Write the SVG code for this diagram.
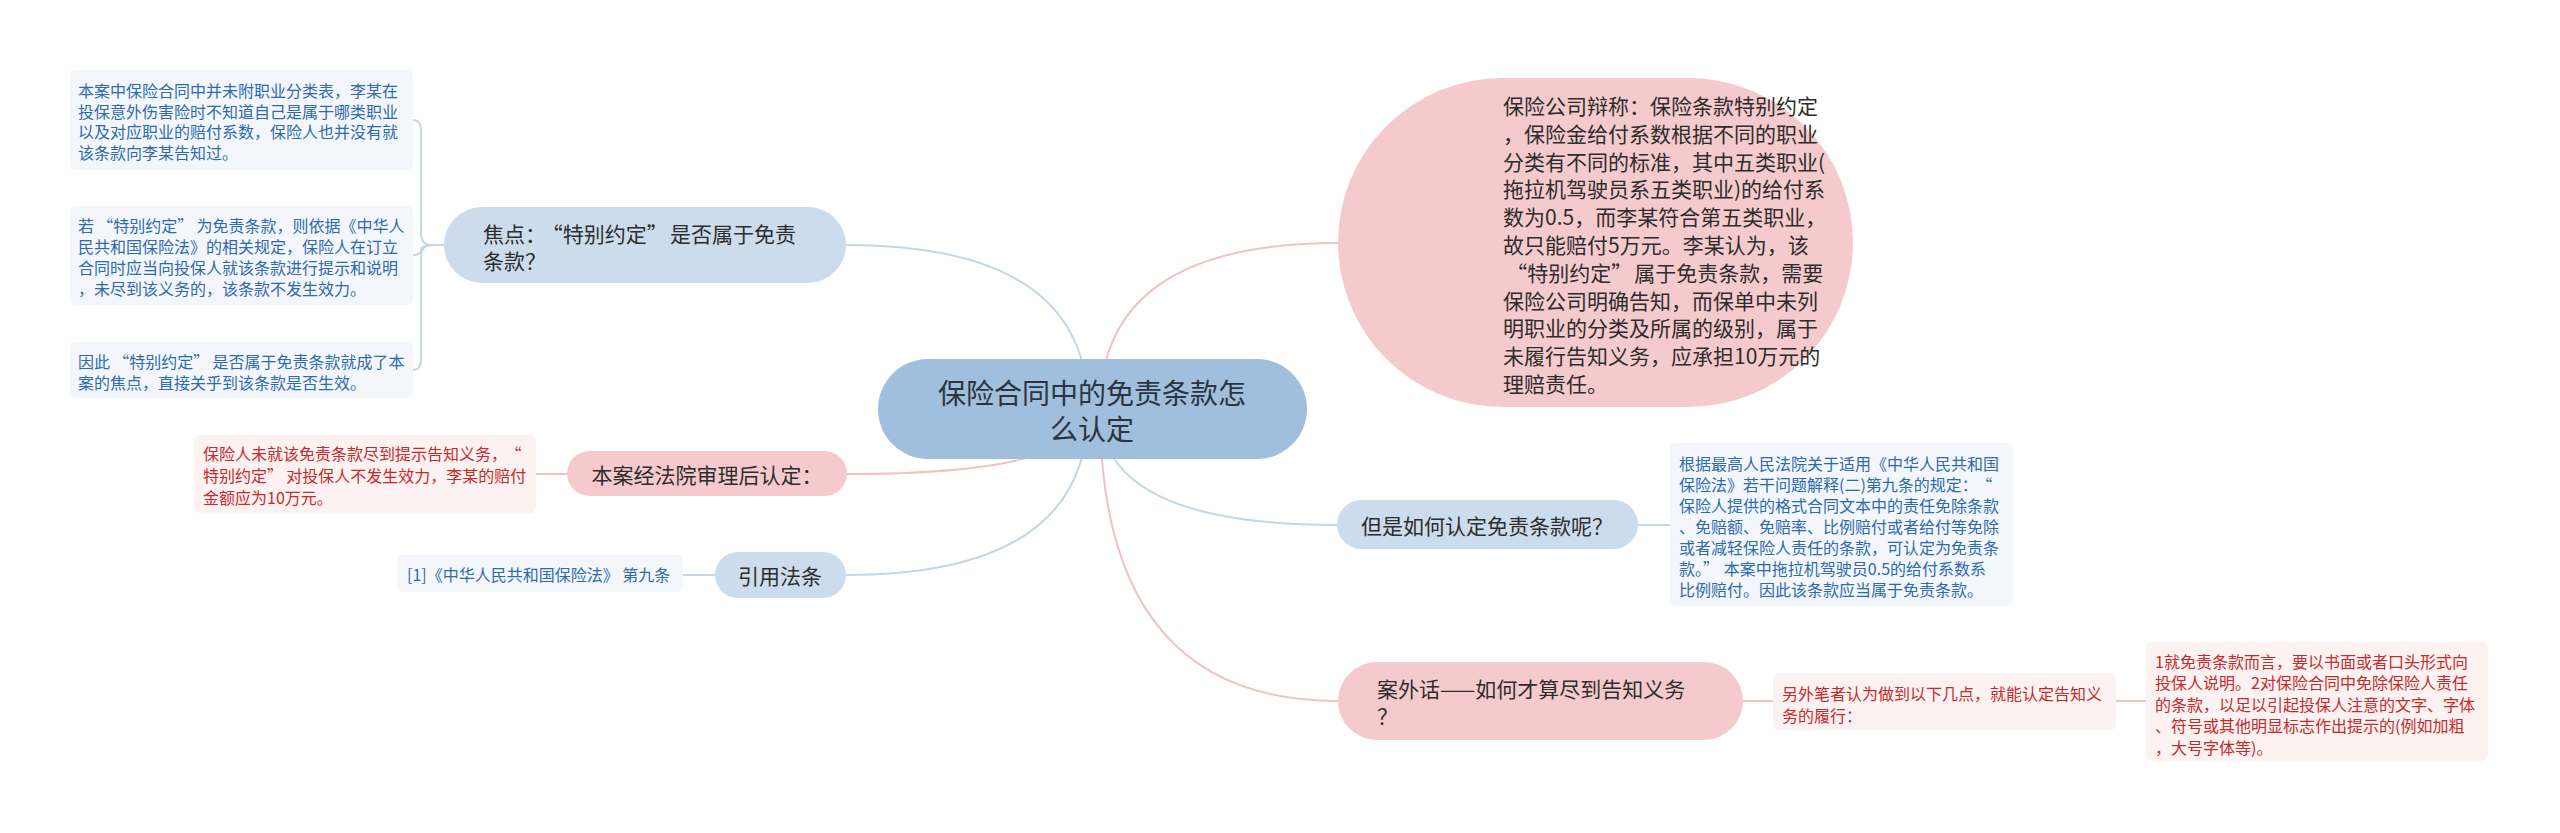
<svg xmlns="http://www.w3.org/2000/svg" width="2560" height="833" viewBox="0 0 2560 833">
<style>
text{font-family:"Noto Sans CJK SC","Liberation Sans",sans-serif;dominant-baseline:central}
.root{fill:#a0bfdc}
.bb{fill:#ccdcec}
.pb{fill:#f5cacc}
.bl{fill:#f3f7fc}
.rl{fill:#fdf2f2}
.cb{fill:none;stroke:#c5d6e9;stroke-width:2}
.cp{fill:none;stroke:#f1c2c4;stroke-width:2}
.tr{font-size:28px;fill:#2b3440;text-anchor:middle}
.tm{font-size:21px;fill:#2d2d2d}
.tmc{font-size:21px;fill:#2d2d2d;text-anchor:middle}
.tb{font-size:16px;fill:#2e6aad}
.tred{font-size:16px;fill:#c8292b}
</style>
<rect width="2560" height="833" fill="#ffffff"/>
<g id="connectors">
<path class="cb" d="M1088 409 Q1088 245 846 245"/>
<path class="cb" d="M1088 409 Q1088 575 846 575"/>
<path class="cb" d="M1100 409 Q1100 525 1337 525"/>
<path class="cp" d="M1100 409 Q1100 243 1338 243"/>
<path class="cp" d="M1088 409 Q1088 474 847 474"/>
<path class="cp" d="M1100 409 Q1100 701 1338 701"/>
<path class="cb" d="M444 245 H432 Q421 245 421 234 V131 Q421 120 413 120"/>
<path class="cb" d="M432 245 Q421 245 421 250 Q421 255 413 255"/>
<path class="cb" d="M432 245 Q421 245 421 256 V359 Q421 370 413 370"/>
<path class="cb" d="M715 575 H683"/>
<path class="cb" d="M1638 525 H1670"/>
<path class="cp" d="M567 474 H536"/>
<path class="cp" d="M1743 701 H1773"/>
<path class="cp" d="M2116 701 H2146"/>
</g>
<g id="root">
<rect class="root" x="878" y="359" width="429" height="100" rx="50"/>
<text class="tr" x="1092" y="392">保险合同中的免责条款怎</text>
<text class="tr" x="1092" y="428">么认定</text>
</g>
<g id="focus">
<rect class="bb" x="444" y="207" width="402" height="76" rx="38"/>
<text class="tm" x="483" y="233">焦点：<tspan dx="0.3em">“</tspan>特别约定”<tspan dx="0.1em">是</tspan>否属于免责</text>
<text class="tm" x="483" y="260">条款？</text>
</g>
<g id="leaf-focus-1">
<rect class="bl" x="70" y="70" width="343" height="100" rx="6"/>
<text class="tb" x="78" y="90">本案中保险合同中并未附职业分类表，李某在</text>
<text class="tb" x="78" y="111">投保意外伤害险时不知道自己是属于哪类职业</text>
<text class="tb" x="78" y="131">以及对应职业的赔付系数，保险人也并没有就</text>
<text class="tb" x="78" y="152">该条款向李某告知过。</text>
</g>
<g id="leaf-focus-2">
<rect class="bl" x="70" y="206" width="343" height="99" rx="6"/>
<text class="tb" x="78" y="225">若<tspan dx="0.2em">“</tspan>特别约定”<tspan dx="0.2em">为</tspan>免责条款，则依据《中华人</text>
<text class="tb" x="78" y="246">民共和国保险法》的相关规定，保险人在订立</text>
<text class="tb" x="78" y="267">合同时应当向投保人就该条款进行提示和说明</text>
<text class="tb" x="78" y="288">，未尽到该义务的，该条款不发生效力。</text>
</g>
<g id="leaf-focus-3">
<rect class="bl" x="70" y="342" width="343" height="56" rx="6"/>
<text class="tb" x="78" y="361">因此<tspan dx="0.2em">“</tspan>特别约定”<tspan dx="0.2em">是</tspan>否属于免责条款就成了本</text>
<text class="tb" x="78" y="382">案的焦点，直接关乎到该条款是否生效。</text>
</g>
<g id="court">
<rect class="pb" x="567" y="451" width="280" height="45" rx="22.5"/>
<text class="tmc" x="707" y="474">本案经法院审理后认定：</text>
</g>
<g id="leaf-court">
<rect class="rl" x="194" y="435" width="342" height="78" rx="6"/>
<text class="tred" x="203" y="453">保险人未就该免责条款尽到提示告知义务，<tspan dx="0.4em">“</tspan></text>
<text class="tred" x="203" y="475">特别约定”<tspan dx="0.2em">对</tspan>投保人不发生效力，李某的赔付</text>
<text class="tred" x="203" y="497">金额应为10万元。</text>
</g>
<g id="law">
<rect class="bb" x="715" y="552" width="131" height="46" rx="23"/>
<text class="tmc" x="780" y="575">引用法条</text>
</g>
<g id="leaf-law">
<rect class="bl" x="397" y="555" width="286" height="37" rx="6"/>
<text class="tb" x="407" y="574">[1]《中华人民共和国保险法》 第九条</text>
</g>
<g id="defense">
<rect class="pb" x="1338" y="78" width="515" height="329" rx="164.5"/>
<text class="tm" x="1503" y="105">保险公司辩称：保险条款特别约定</text>
<text class="tm" x="1503" y="133">，保险金给付系数根据不同的职业</text>
<text class="tm" x="1503" y="161">分类有不同的标准，其中五类职业(</text>
<text class="tm" x="1503" y="188">拖拉机驾驶员系五类职业)的给付系</text>
<text class="tm" x="1503" y="216">数为0.5，而李某符合第五类职业，</text>
<text class="tm" x="1503" y="244">故只能赔付5万元。李某认为，该</text>
<text class="tm" x="1503" y="272"><tspan dx="0.15em">“</tspan>特别约定”<tspan dx="0.1em">属</tspan>于免责条款，需要</text>
<text class="tm" x="1503" y="300">保险公司明确告知，而保单中未列</text>
<text class="tm" x="1503" y="327">明职业的分类及所属的级别，属于</text>
<text class="tm" x="1503" y="355">未履行告知义务，应承担10万元的</text>
<text class="tm" x="1503" y="383">理赔责任。</text>
</g>
<g id="how">
<rect class="bb" x="1337" y="500" width="301" height="49" rx="24.5"/>
<text class="tmc" x="1487" y="524.5">但是如何认定免责条款呢？</text>
</g>
<g id="leaf-how">
<rect class="bl" x="1670" y="443" width="343" height="163" rx="6"/>
<text class="tb" x="1679" y="463">根据最高人民法院关于适用《中华人民共和国</text>
<text class="tb" x="1679" y="484">保险法》若干问题解释(二)第九条的规定：<tspan dx="0.4em">“</tspan></text>
<text class="tb" x="1679" y="505">保险人提供的格式合同文本中的责任免除条款</text>
<text class="tb" x="1679" y="526">、免赔额、免赔率、比例赔付或者给付等免除</text>
<text class="tb" x="1679" y="547">或者减轻保险人责任的条款，可认定为免责条</text>
<text class="tb" x="1679" y="568">款。”<tspan dx="0.3em">本</tspan>案中拖拉机驾驶员0.5的给付系数系</text>
<text class="tb" x="1679" y="589">比例赔付。因此该条款应当属于免责条款。</text>
</g>
<g id="extra">
<rect class="pb" x="1338" y="662" width="405" height="78" rx="39"/>
<text class="tm" x="1377" y="688">案外话——如何才算尽到告知义务</text>
<text class="tm" x="1377" y="715">？</text>
</g>
<g id="leaf-extra-1">
<rect class="rl" x="1773" y="673" width="343" height="57" rx="6"/>
<text class="tred" x="1782" y="693">另外笔者认为做到以下几点，就能认定告知义</text>
<text class="tred" x="1782" y="715">务的履行：</text>
</g>
<g id="leaf-extra-2">
<rect class="rl" x="2146" y="642" width="342" height="119" rx="6"/>
<text class="tred" x="2155" y="661">1就免责条款而言，要以书面或者口头形式向</text>
<text class="tred" x="2155" y="682">投保人说明。2对保险合同中免除保险人责任</text>
<text class="tred" x="2155" y="704">的条款，以足以引起投保人注意的文字、字体</text>
<text class="tred" x="2155" y="725">、符号或其他明显标志作出提示的(例如加粗</text>
<text class="tred" x="2155" y="747">，大号字体等)。</text>
</g>
</svg>
